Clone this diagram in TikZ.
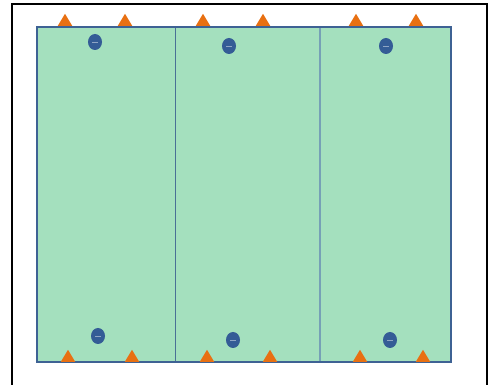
\documentclass[tikz,border=0pt]{standalone}
\usetikzlibrary{shapes.geometric, positioning, calc}
\definecolor{pitch}{RGB}{164,224,190}
\definecolor{edge}{RGB}{62,98,148}
\definecolor{lineA}{RGB}{74,112,150}
\definecolor{lineB}{RGB}{118,160,182}
\definecolor{conecol}{RGB}{232,112,18}
\definecolor{playercol}{RGB}{52,92,150}

\begin{document}
\begin{tikzpicture}[
    x=1pt, y=-1pt,
    field/.style={fill=pitch, draw=edge, line width=2.8pt},
    cone/.style={isosceles triangle, shape border rotate=90, isosceles triangle apex angle=62, minimum height=12pt, minimum width=10pt, inner sep=0pt, fill=conecol, anchor=south},
    player/.style={ellipse, minimum width=14pt, minimum height=16pt, inner sep=0pt, fill=playercol},
]
\useasboundingbox (0,0) rectangle (491,385);

% outer frame
\draw[line width=2pt] (12,4) rectangle (487,400);

% pitch and zones
\draw[field] (37,27) rectangle (451,362);
\draw[lineA, line width=1pt] (175,28) -- (175,361);
\draw[lineB, line width=1.6pt] (320,28) -- (320,361);

% cones
\foreach \cx [count=\i] in {65,125,203,263,356,416}
    \node[cone] (ctop\i) at (\cx,26) {};
\foreach \cx [count=\i] in {68,132,207,270,360,423}
    \node[cone] (cbot\i) at (\cx,362) {};

% players
\foreach \px/\py [count=\i] in {95/42, 229/46, 386/46, 98/336, 233/340, 390/340} {
    \node[player] (p\i) at (\px,\py) {};
    \draw[playercol!55!white, line width=0.6pt] ($(p\i.center)+(-3,0.5)$) -- ($(p\i.center)+(3,0.5)$);
}

\end{tikzpicture}
\end{document}
